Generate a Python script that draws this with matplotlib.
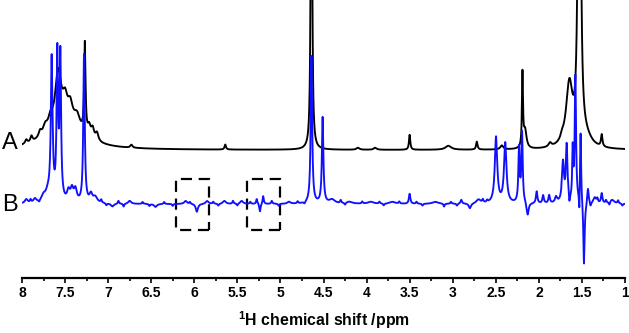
import numpy as np
import matplotlib
matplotlib.use("Agg")
import matplotlib.pyplot as plt
from matplotlib.ticker import MultipleLocator
from matplotlib.patches import Rectangle

plt.rcParams['font.family'] = ['Liberation Sans', 'DejaVu Sans']
plt.rcParams['mathtext.fontset'] = 'custom'
plt.rcParams['mathtext.bf'] = 'Liberation Sans:bold'
plt.rcParams['mathtext.rm'] = 'Liberation Sans'

# trace A (black) peak table: position (ppm), height, half width
a_pos = [7.95, 7.89, 7.79, 7.73, 7.67, 7.58, 7.50, 7.50, 7.44, 7.36, 7.27, 7.22, 7.18, 7.13,
         6.73, 5.64, 4.64, 4.10, 3.90, 3.50, 3.05, 2.72, 2.43, 2.19, 2.16, 1.87, 1.73,
         1.646, 1.53, 1.45, 1.27]
a_hgt = [4, 6, 6, 8, 10, 50, 32, 16, 14, 12, 90, 10, 10, 8,
         3, 5, 600, 2, 2, 15, 4, 8, 4, 74, 18, 4, 4,
         62, 800, 8, 12]
a_wid = [0.015, 0.015, 0.02, 0.03, 0.03, 0.04, 0.2, 0.03, 0.03, 0.04, 0.009, 0.02, 0.02, 0.02,
         0.015, 0.01, 0.007, 0.02, 0.02, 0.009, 0.04, 0.01, 0.02, 0.007, 0.02, 0.02, 0.02,
         0.045, 0.012, 0.08, 0.01]

# trace B (blue) peak table, negative heights for the dispersive dips
b_pos = [7.95, 7.85, 7.75, 7.70, 7.655, 7.59, 7.555, 7.46, 7.42, 7.38, 7.28, 7.20, 7.15,
         6.95, 6.75, 6.45, 6.1, 5.97, 5.85, 5.65, 5.45, 5.275, 5.237, 5.20, 4.9,
         4.64, 4.51, 4.40, 4.2, 3.95, 3.7, 3.5, 3.2, 2.9, 2.80, 2.70,
         2.497, 2.39, 2.23, 2.195, 2.13, 2.025, 1.95, 1.88, 1.80,
         1.72, 1.677, 1.645, 1.607, 1.576, 1.53, 1.515, 1.476, 1.43, 1.35, 1.27, 1.15]
b_hgt = [4, 4, 6, 8, 142, 144, 144, 10, 12, 12, 148, 8, 6,
         -3, 3, -3, 3, -8, 3, 3, 3, 5, -8, 8, 2,
         148, 86, 4, 2, 2, 2, 10, 2, 4, -5, 4,
         66, 60, 54, 70, -13, 12, 8, 8, 6,
         40, 56, -8, 50, 126, -20, 72, -64, 16, 6, 10, 4]
b_wid = [0.02, 0.02, 0.03, 0.03, 0.012, 0.01, 0.01, 0.02, 0.02, 0.02, 0.01, 0.02, 0.03,
         0.02, 0.02, 0.02, 0.02, 0.015, 0.02, 0.02, 0.02, 0.008, 0.008, 0.008, 0.02,
         0.01, 0.01, 0.04, 0.04, 0.04, 0.04, 0.01, 0.04, 0.01, 0.015, 0.03,
         0.017, 0.017, 0.009, 0.009, 0.014, 0.01, 0.01, 0.01, 0.015,
         0.014, 0.011, 0.006, 0.007, 0.009, 0.005, 0.007, 0.009, 0.01, 0.02, 0.01, 0.03]

# small ripples of the blue trace (ppm, height)
ripple_pos = [7.90, 7.80, 7.08, 7.02, 6.88, 6.82, 6.60, 6.52, 6.35, 6.25, 6.05, 5.78, 5.72,
              5.55, 5.50, 5.35, 5.10, 5.02, 4.80, 4.72, 4.30, 4.25, 4.05, 3.85, 3.80,
              3.62, 3.42, 3.35, 3.10, 3.02, 2.95, 2.65, 2.60, 1.40, 1.32, 1.22, 1.18, 1.08, 1.03]
ripple_hgt = [3, -2, 3, -2, 3, -3, 2, -2, 2, -2, 2, 2, -2,
              3, -2, 2, 3, -2, 2, -2, 3, -2, 2, 2, -2,
              2, 2, -2, -3, 2, -2, 3, 2, -4, 4, 3, -3, 3, -2]

a_offset = 127.5
b_offset = 73.5
box_left = [6.21, 5.39]
box_right = [5.83, 5.00]

x = np.linspace(1, 8, 5000)


def lorentz(c, h, g):
    return h * g ** 2 / ((x - c) ** 2 + g ** 2)


trace_a = np.full_like(x, a_offset)
for c, h, g in zip(a_pos, a_hgt, a_wid):
    trace_a += lorentz(c, h, g)

trace_b = np.full_like(x, b_offset)
for c, h, g in zip(b_pos, b_hgt, b_wid):
    trace_b += lorentz(c, h, g)
for c, h in zip(ripple_pos, ripple_hgt):
    trace_b += lorentz(c, h, 0.008)

fig = plt.figure(figsize=(6.29, 3.33), dpi=100)
ax = fig.add_axes([22 / 629, 55.5 / 333, 603 / 629, 277.5 / 333])

ax.plot(x, trace_a, color='black', lw=1.35)
ax.plot(x, trace_b, color='#1010ff', lw=1.35)

for l, r in zip(box_left, box_right):
    ax.add_patch(Rectangle((r, 47.5), l - r, 51, fill=False, ec='black', lw=1.6,
                           ls=(0, (5, 3))))

ax.set_xlim(8, 1)
ax.set_ylim(0, 277.5)
ax.xaxis.set_major_locator(MultipleLocator(0.5))
ax.xaxis.set_minor_locator(MultipleLocator(0.25))
ax.xaxis.set_major_formatter(plt.FuncFormatter(lambda v, p: f"{v:g}"))
ax.tick_params(axis='x', which='major', direction='out', length=3.6, width=1.2,
               labelsize=10, pad=2.5)
ax.tick_params(axis='x', which='minor', direction='out', length=2.2, width=1.2)
for t in ax.get_xticklabels():
    t.set_fontweight('bold')
ax.set_yticks([])
for s in ['left', 'right', 'top']:
    ax.spines[s].set_visible(False)
ax.spines['bottom'].set_linewidth(1.6)

ax.set_xlabel(r'$^{\mathbf{1}}$H chemical shift /ppm', fontsize=11.4, fontweight='bold',
              labelpad=7)

fig.text(10 / 629, 1 - 143 / 333, 'A', fontsize=17, ha='center', va='center')
fig.text(10 / 629, 1 - 205 / 333, 'B', fontsize=17, ha='center', va='center')

fig.savefig('out.png', dpi=100)
